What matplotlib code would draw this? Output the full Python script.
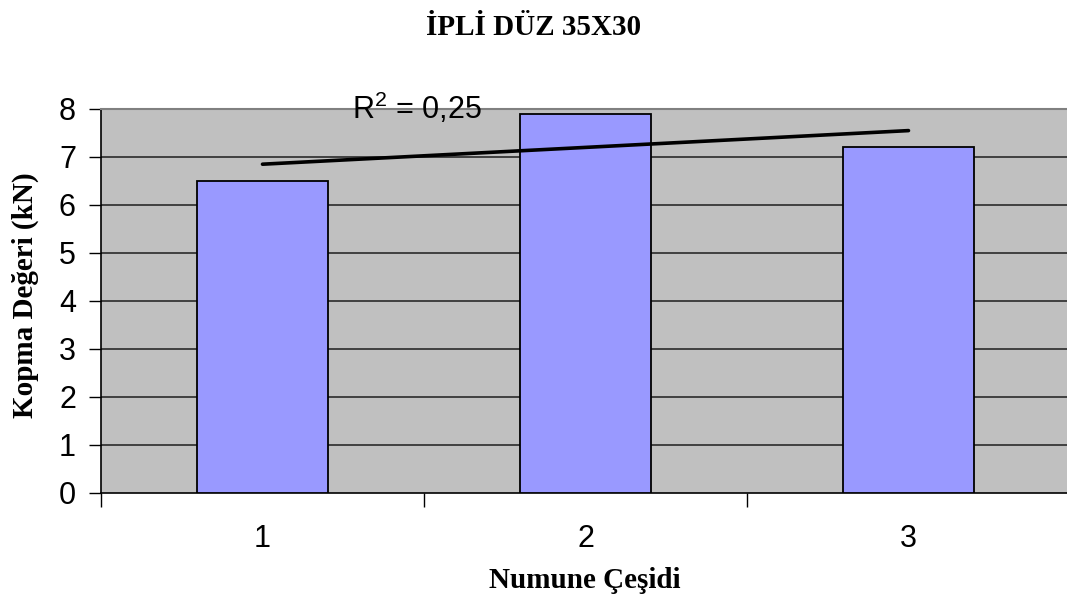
import numpy as np
import matplotlib
matplotlib.use("Agg")
import matplotlib.pyplot as plt
from matplotlib.ticker import FixedLocator, NullFormatter

# Breaking strength per sample type
categories = ["1", "2", "3"]
values = [6.5, 7.9, 7.2]
y_ticks = [0, 1, 2, 3, 4, 5, 6, 7, 8]

title = "İPLİ DÜZ 35X30"
x_label = "Numune Çeşidi"
y_label = "Kopma Değeri (kN)"

plt.rcParams["mathtext.fontset"] = "custom"
plt.rcParams["mathtext.rm"] = "Liberation Sans"
plt.rcParams["mathtext.it"] = "Liberation Sans:italic"

W, H = 1067, 611
fig = plt.figure(figsize=(W / 100, H / 100), dpi=100)
left, right, top, bottom = 101, 1070, 109, 493
ax = fig.add_axes([left / W, (H - bottom) / H, (right - left) / W, (bottom - top) / H])
ax.set_facecolor("#C0C0C0")

x = np.arange(1, len(values) + 1)
ax.bar(x, values, width=0.403, color="#9999FF", edgecolor="black", linewidth=1.3, zorder=3)

# Linear trend line with coefficient of determination
slope, intercept = np.polyfit(x, values, 1)
fit = slope * x + intercept
vals = np.array(values)
r2 = 1 - np.sum((vals - fit) ** 2) / np.sum((vals - vals.mean()) ** 2)
ax.plot([x[0], x[-1]], [fit[0], fit[-1]], color="black", linewidth=2.6,
        solid_capstyle="round", zorder=4)
ax.text(1.277, 7.79, "R$^2$ = " + f"{r2:.2f}".replace(".", ","),
        fontsize=22, family="Liberation Sans", ha="left", va="baseline", zorder=5)

# Horizontal gridlines
for yv in y_ticks[1:-1]:
    ax.axhline(yv, color="#2a2a2a", linewidth=1.2, zorder=1)

ax.set_xlim(0.5, len(values) + 0.5)
ax.set_ylim(0, 8)

ax.set_yticks(y_ticks)
ax.set_yticklabels([str(t) for t in y_ticks], fontsize=22, family="Liberation Sans")
ax.tick_params(axis="y", direction="out", length=9, width=1, pad=9, color="black")

# Category boundaries carry the tick marks, labels sit at the centres
ax.xaxis.set_major_locator(FixedLocator(np.arange(0.5, len(values) + 1, 1.0)))
ax.xaxis.set_major_formatter(NullFormatter())
ax.xaxis.set_minor_locator(FixedLocator(x))
ax.set_xticklabels(categories, minor=True, fontsize=22, family="Liberation Sans")
ax.tick_params(axis="x", which="major", direction="out", length=10, width=1, color="black")
ax.tick_params(axis="x", which="minor", length=0, pad=22)

ax.spines["left"].set_color("black")
ax.spines["bottom"].set_color("black")
ax.spines["left"].set_linewidth(1.2)
ax.spines["bottom"].set_linewidth(1.2)
ax.spines["top"].set_color("#808080")
ax.spines["top"].set_linewidth(1.5)
ax.spines["right"].set_visible(False)

fig.text(534 / W, 1 - 35 / H, title, fontsize=21, fontweight="bold",
         family="Liberation Serif", ha="center", va="baseline")
fig.text(585 / W, 1 - 580 / H, x_label, fontsize=21, fontweight="bold",
         family="Liberation Serif", ha="center", va="center")
fig.text(25 / W, 1 - 295 / H, y_label, fontsize=21, fontweight="bold",
         family="Liberation Serif", ha="center", va="center", rotation=90)

fig.savefig("out.png", dpi=100)
